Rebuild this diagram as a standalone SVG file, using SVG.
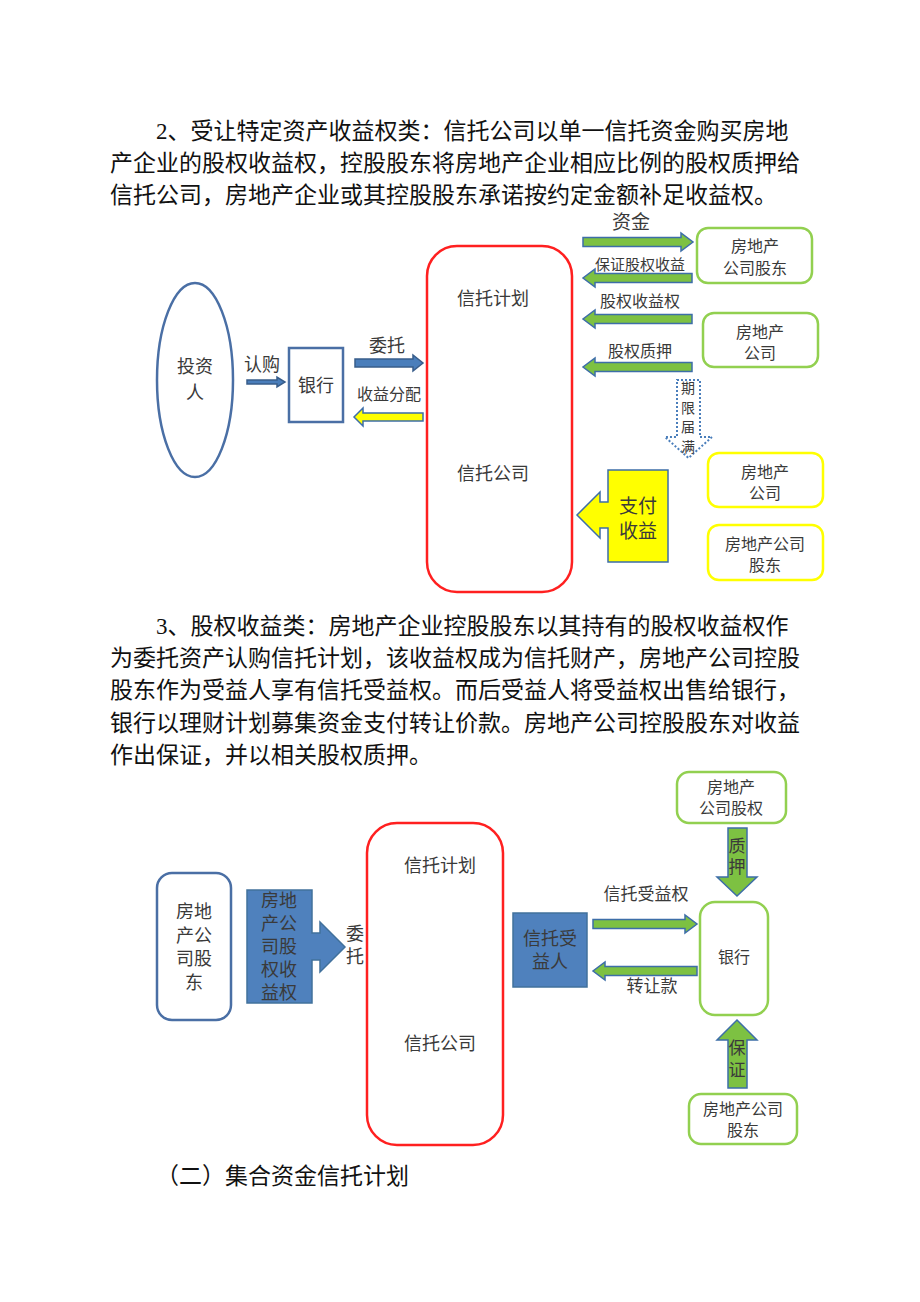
<svg xmlns="http://www.w3.org/2000/svg" width="920" height="1302" viewBox="0 0 920 1302">
<style>
.p{font-family:"Liberation Serif","Noto Sans CJK SC",serif;font-size:23px;fill:#111}
.t{font-family:"Liberation Sans","Noto Sans CJK SC",sans-serif;fill:#3a3a3a;text-anchor:middle}
.s18{font-size:18px}.s16{font-size:16px}.s15{font-size:15px}.s14{font-size:14px}.s19{font-size:19px}.s17{font-size:17px}
.red{fill:#fff;stroke:#ff2020;stroke-width:2.5}
.gbox{fill:#fff;stroke:#92d050;stroke-width:2.5}
.ybox{fill:#fff;stroke:#ffff00;stroke-width:2.5}
.bbox{fill:#fff;stroke:#4a6fa5;stroke-width:2.5}
.garr{fill:#7dc142;stroke:#3d6ea8;stroke-width:1.5}
.barr{fill:#4a7ebb;stroke:#385d8a;stroke-width:1.5}
.yarr{fill:#ffff00;stroke:#3d6ea8;stroke-width:1.5}
.bfill{fill:#4f81bd;stroke:#41719c;stroke-width:1.5}
</style>
<rect width="920" height="1302" fill="#fff"/>

<g id="para2">
<text class="p" x="156" y="139">2、受让特定资产收益权类：信托公司以单一信托资金购买房地</text>
<text class="p" x="110" y="171">产企业的股权收益权，控股股东将房地产企业相应比例的股权质押给</text>
<text class="p" x="110" y="203">信托公司，房地产企业或其控股股东承诺按约定金额补足收益权。</text>
</g>

<!-- Diagram 1 -->
<g id="d1-investor"><ellipse class="bbox" cx="195" cy="380" rx="38" ry="97"/>
<text class="t s18" x="195" y="373">投资<tspan x="195" dy="26">人</tspan></text></g>
<g id="d1-bank"><rect class="bbox" x="289" y="348" width="54" height="74" stroke-width="2"/>
<text class="t s18" x="316" y="392">银行</text></g>
<g id="d1-trust"><rect class="red" x="427" y="246" width="145" height="346" rx="30"/>
<text class="t s18" x="493" y="305">信托计划</text><text class="t s18" x="493" y="480">信托公司</text></g>
<g id="d1-holder"><rect class="gbox" x="697" y="228" width="115" height="55" rx="11"/>
<text class="t s16" x="755" y="252">房地产<tspan x="755" dy="22">公司股东</tspan></text></g>
<g id="d1-company"><rect class="gbox" x="703" y="313" width="115" height="54" rx="11"/>
<text class="t s16" x="760" y="338">房地产<tspan x="760" dy="21">公司</tspan></text></g>
<g id="d1-company2"><rect class="ybox" x="708" y="453" width="115" height="54" rx="11"/>
<text class="t s16" x="765" y="478">房地产<tspan x="765" dy="21">公司</tspan></text></g>
<g id="d1-holder2"><rect class="ybox" x="708" y="525" width="115" height="55" rx="11"/>
<text class="t s16" x="765" y="550">房地产公司<tspan x="765" dy="21">股东</tspan></text></g>
<g id="d1-pay"><path class="yarr" d="M608,470 H668 V562 H608 V528 H600 V538 L577,515 L600,492 V502 H608 Z" stroke-width="2"/>
<text class="t s19" x="638" y="513">支付<tspan x="638" dy="25">收益</tspan></text></g>

<g id="d1-connectors">
<path class="barr" d="M247,380 H277 V377 L285,382 L277,387 V384 H247 Z"/>
<text class="t s18" x="262" y="371">认购</text>
<path class="barr" d="M355,359 H413 V355 L423,363 L413,371 V367 H355 Z"/>
<text class="t s18" x="387" y="352">委托</text>
<path class="yarr" d="M423,413 H363 V408 L354,417 L363,426 V421 H423 Z"/>
<text class="t s16" x="389" y="400">收益分配</text>
<path class="garr" d="M583,237.5 H681 V233 L693,242 L681,251 V246.5 H583 Z"/>
<text class="t s19" x="631" y="229">资金</text>
<path class="garr" d="M692,273.5 H595 V269 L583,278 L595,287 V282.5 H692 Z"/>
<text class="t s15" x="640" y="270">保证股权收益</text>
<path class="garr" d="M692,314.5 H595 V310 L583,319 L595,328 V323.5 H692 Z"/>
<text class="t s16" x="640" y="307">股权收益权</text>
<path class="garr" d="M692,362.5 H595 V358 L583,367 L595,376 V371.5 H692 Z"/>
<text class="t s16" x="640" y="357">股权质押</text>
<path d="M677,380 H700 V437 H712 L688.5,458 L665,437 H677 Z" fill="#fff" stroke="#4a7ebb" stroke-width="2" stroke-dasharray="2,2"/>
<text class="t s14" x="688" y="393">期<tspan x="688" dy="19.5">限</tspan><tspan x="688" dy="19.5">届</tspan><tspan x="688" dy="19.5">满</tspan></text>
</g>

<g id="para3">
<text class="p" x="156" y="634">3、股权收益类：房地产企业控股股东以其持有的股权收益权作</text>
<text class="p" x="110" y="666">为委托资产认购信托计划，该收益权成为信托财产，房地产公司控股</text>
<text class="p" x="110" y="698">股东作为受益人享有信托受益权。而后受益人将受益权出售给银行，</text>
<text class="p" x="110" y="731">银行以理财计划募集资金支付转让价款。房地产公司控股股东对收益</text>
<text class="p" x="110" y="763">作出保证，并以相关股权质押。</text>
</g>

<!-- Diagram 2 -->
<g id="d2-holder"><rect class="bbox" x="157" y="873" width="74" height="147" rx="15"/>
<text class="t s18" x="194" y="918">房地<tspan x="194" dy="23.5">产公</tspan><tspan x="194" dy="23.5">司股</tspan><tspan x="194" dy="23.5">东</tspan></text></g>
<g id="d2-asset"><path class="bfill" d="M247,890 H312 V933 H320 V922 L345,947 L320,972 V960 H312 V1003 H247 Z"/>
<text class="t s18" x="279" y="907">房地<tspan x="279" dy="23">产公</tspan><tspan x="279" dy="23">司股</tspan><tspan x="279" dy="23">权收</tspan><tspan x="279" dy="23">益权</tspan></text></g>
<g id="d2-trust"><rect class="red" x="367" y="823" width="136" height="322" rx="30"/>
<text class="t s18" x="440" y="872">信托计划</text><text class="t s18" x="440" y="1050">信托公司</text></g>
<g id="d2-beneficiary"><rect class="bfill" x="513" y="913" width="74" height="74"/>
<text class="t s18" x="550" y="945">信托受<tspan x="550" dy="23">益人</tspan></text></g>
<g id="d2-equity"><rect class="gbox" x="677" y="772" width="109" height="51" rx="12"/>
<text class="t s16" x="731" y="793">房地产<tspan x="731" dy="21">公司股权</tspan></text></g>
<g id="d2-bank"><rect class="gbox" x="700" y="902" width="68" height="113" rx="15"/>
<text class="t s16" x="734" y="963">银行</text></g>
<g id="d2-holder2"><rect class="gbox" x="689" y="1094" width="108" height="50" rx="12"/>
<text class="t s16" x="743" y="1115">房地产公司<tspan x="743" dy="21">股东</tspan></text></g>

<g id="d2-connectors">
<text class="t s18" x="355" y="940">委<tspan x="355" dy="23">托</tspan></text>
<path class="garr" d="M728,828 H747 V877 H757 L737,896 L717,877 H728 Z"/>
<text class="t s17" x="737" y="852">质<tspan x="737" dy="21">押</tspan></text>
<path class="garr" d="M737,1020 L757,1040 H747 V1088 H728 V1040 H717 Z"/>
<text class="t s17" x="737" y="1054">保<tspan x="737" dy="22">证</tspan></text>
<path class="garr" d="M593,919.5 H685 V915 L697,924 L685,933 V928.5 H593 Z"/>
<text class="t s17" x="646" y="900">信托受益权</text>
<path class="garr" d="M697,966.5 H605 V962 L593,971 L605,980 V975.5 H697 Z"/>
<text class="t s17" x="652" y="992">转让款</text>
</g>

<g id="heading"><text class="p" x="156" y="1184">（二）集合资金信托计划</text></g>
</svg>
